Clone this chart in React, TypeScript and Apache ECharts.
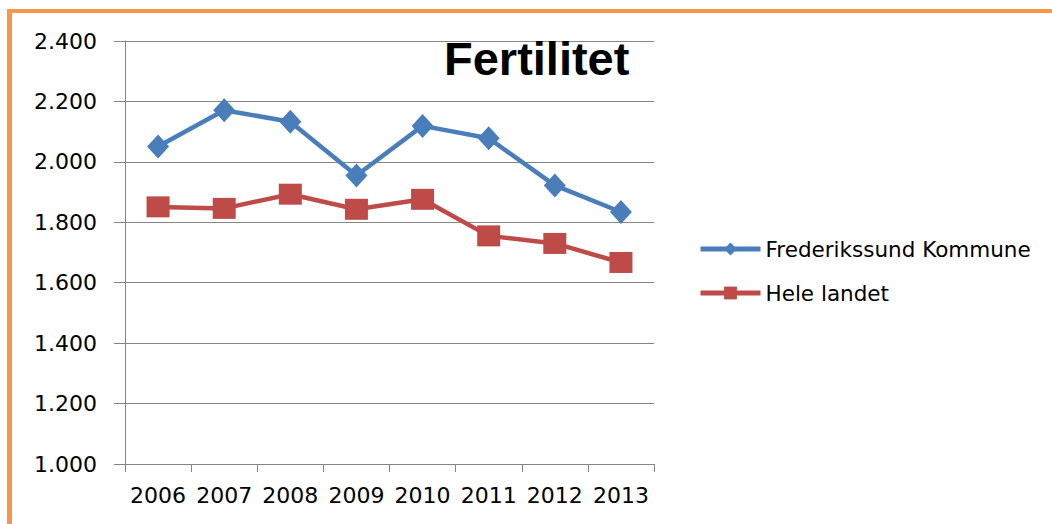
import React, { useEffect, useRef } from "react";
import * as echarts from "echarts";

const years = ["2006", "2007", "2008", "2009", "2010", "2011", "2012", "2013"];
const frederikssund = [2051, 2171, 2133, 1955, 2119, 2078, 1922, 1834];
const heleLandet = [1851, 1846, 1893, 1843, 1876, 1755, 1730, 1667];
const seriesNames = ["Frederikssund Kommune", "Hele landet"];
const titleText = "Fertilitet";

const fmt = (v: number) => {
  const s = String(Math.round(v));
  return s.length > 3 ? s.slice(0, s.length - 3) + "." + s.slice(-3) : s;
};

export default function App() {
  const ref = useRef<HTMLDivElement>(null);
  useEffect(() => {
    if (!ref.current) return;
    const chart = echarts.init(ref.current, undefined, { renderer: "svg" });
    const blue = "#4A7EBB";
    const red = "#BE4B48";
    const axisFont = "DejaVu Sans";
    chart.setOption({
      animation: false,
      backgroundColor: "#fff",
      title: {
        text: titleText,
        left: 444,
        top: 35,
        padding: 0,
        textStyle: {
          fontSize: 47,
          fontWeight: "bold",
          fontFamily: "Liberation Sans",
          color: "#000",
        },
      },
      legend: {
        orient: "vertical",
        left: 698,
        top: 238,
        itemWidth: 60,
        itemHeight: 16,
        itemGap: 22,
        padding: 0,
        lineStyle: { width: 5 },
        textStyle: { fontSize: 21.5, fontFamily: axisFont, color: "#000" },
        data: seriesNames,
      },
      grid: { left: 125, top: 41, width: 529, height: 423, containLabel: false },
      xAxis: {
        type: "category",
        data: years,
        boundaryGap: true,
        axisLine: { lineStyle: { color: "#868686", width: 1 } },
        axisTick: { show: true, length: 8, lineStyle: { color: "#868686" } },
        axisLabel: {
          margin: 20,
          fontSize: 22,
          fontFamily: axisFont,
          color: "#000",
          interval: 0,
        },
        splitLine: { show: false },
      },
      yAxis: {
        type: "value",
        min: 1000,
        max: 2400,
        interval: 200,
        axisLine: { show: true, lineStyle: { color: "#868686", width: 1 } },
        axisTick: { show: true, length: 11, lineStyle: { color: "#868686" } },
        axisLabel: {
          margin: 28,
          fontSize: 22,
          fontFamily: axisFont,
          color: "#000",
          formatter: (v: number) => fmt(v),
        },
        splitLine: { show: true, lineStyle: { color: "#868686", width: 1 } },
      },
      graphic: [
        { type: "rect", shape: { x: 7, y: 9, width: 1045, height: 4 }, style: { fill: "#F79646" }, silent: true },
        { type: "rect", shape: { x: 7, y: 9, width: 5, height: 515 }, style: { fill: "#F79646" }, silent: true },
      ],
      series: [
        {
          name: seriesNames[0],
          type: "line",
          data: frederikssund,
          symbol: "diamond",
          symbolSize: [22, 24],
          lineStyle: { color: blue, width: 4.5 },
          itemStyle: { color: blue },
        },
        {
          name: seriesNames[1],
          type: "line",
          data: heleLandet,
          symbol: "rect",
          symbolSize: [23, 21],
          lineStyle: { color: red, width: 4.5 },
          itemStyle: { color: red },
        },
      ],
    });
    return () => chart.dispose();
  }, []);
  return (
    <div
      ref={ref}
      style={{ position: "fixed", left: 0, top: 0, width: 1052, height: 524 }}
    />
  );
}
